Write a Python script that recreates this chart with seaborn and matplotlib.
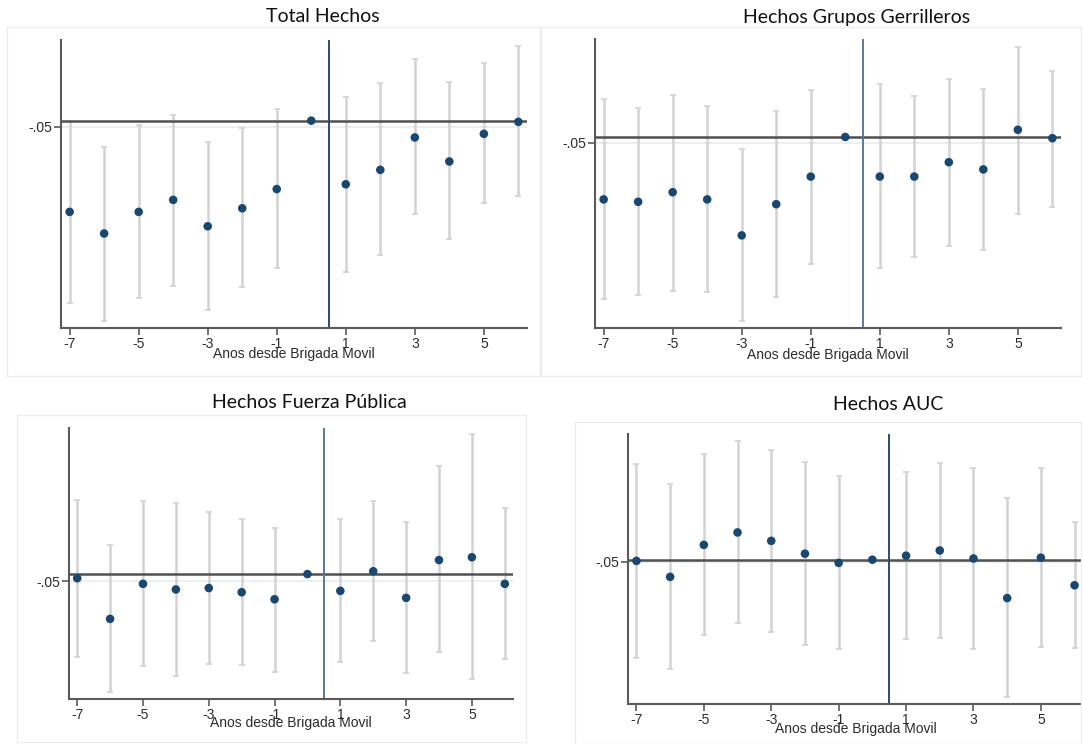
import numpy as np
import pandas as pd
import seaborn as sns
import matplotlib.pyplot as plt
from matplotlib.patches import Rectangle

years = [-7, -6, -5, -4, -3, -2, -1, 0, 1, 2, 3, 4, 5, 6]
xticks = [-7, -5, -3, -1, 1, 3, 5]
nan = np.nan

titles = ['Total Hechos', 'Hechos Grupos Gerrilleros',
          'Hechos Fuerza Pública', 'Hechos AUC']
xlabel = 'Anos desde Brigada Movil'

# coeficientes e intervalos (año 0 = referencia)
total_coef = [-0.76, -0.94, -0.76, -0.66, -0.88, -0.73, -0.57, 0.0, -0.53, -0.41, -0.14, -0.34, -0.11, -0.01]
total_lo = [-1.52, -1.67, -1.48, -1.38, -1.58, -1.39, -1.23, nan, -1.26, -1.12, -0.78, -0.99, -0.69, -0.63]
total_hi = [0.0, -0.22, -0.04, 0.05, -0.18, -0.06, 0.10, nan, 0.20, 0.31, 0.51, 0.32, 0.48, 0.62]

guer_coef = [-0.52, -0.54, -0.46, -0.52, -0.82, -0.56, -0.33, 0.0, -0.33, -0.33, -0.21, -0.27, 0.06, -0.01]
guer_lo = [-1.35, -1.32, -1.28, -1.29, -1.53, -1.33, -1.06, nan, -1.09, -1.00, -0.91, -0.94, -0.64, -0.58]
guer_hi = [0.32, 0.24, 0.35, 0.26, -0.10, 0.22, 0.39, nan, 0.44, 0.34, 0.48, 0.40, 0.75, 0.55]

fp_coef = [-0.03, -0.32, -0.07, -0.11, -0.10, -0.13, -0.18, 0.0, -0.12, 0.02, -0.17, 0.10, 0.12, -0.07]
fp_lo = [-0.59, -0.84, -0.66, -0.73, -0.64, -0.65, -0.70, nan, -0.63, -0.48, -0.71, -0.56, -0.75, -0.61]
fp_hi = [0.53, 0.21, 0.52, 0.51, 0.44, 0.39, 0.33, nan, 0.39, 0.52, 0.37, 0.77, 1.00, 0.47]

auc_coef = [-0.03, -0.43, 0.37, 0.68, 0.47, 0.15, -0.08, 0.0, 0.10, 0.23, 0.03, -0.96, 0.05, -0.64]
auc_lo = [-2.45, -2.73, -1.88, -1.59, -1.81, -2.13, -2.23, nan, -1.99, -1.95, -2.23, -3.43, -2.19, -2.21]
auc_hi = [2.39, 1.89, 2.63, 2.97, 2.75, 2.44, 2.08, nan, 2.20, 2.41, 2.28, 1.53, 2.28, 0.93]

series = [(total_coef, total_lo, total_hi),
          (guer_coef, guer_lo, guer_hi),
          (fp_coef, fp_lo, fp_hi),
          (auc_coef, auc_lo, auc_hi)]
ylims = [(-1.725, 0.672), (-1.594, 0.814), (-0.890, 1.043), (-3.608, 3.142)]

sns.set_theme(style='white')
plt.rcParams['font.family'] = ['Liberation Sans', 'DejaVu Sans']

W, H = 1082, 744
fig = plt.figure(figsize=(W / 100, H / 100), dpi=100)

# marcos de cada captura (px: izq, arriba, der, abajo)
frames = [(7, 27, 540, 376), (541, 27, 1081, 376), (17, 415, 526, 742), (575, 422, 1081, 744)]
for l, t, r, b in frames:
    fig.patches.append(Rectangle((l / W, 1 - b / H), (r - l) / W, (b - t) / H,
                                 transform=fig.transFigure, fill=False,
                                 edgecolor='#ededed', lw=1))

boxes = [(61, 40, 527, 327.7), (595, 39.3, 1061, 328.3), (69, 428, 513, 698.7), (628, 434, 1083, 704)]
title_pos = [(323, 17), (857, 17), (309, 402), (888, 405)]
vline_col = ['#2e4c6d', '#5a7896', '#5a7896', '#2e4c6d']

for i in range(4):
    l, t, r, b = boxes[i]
    ax = fig.add_axes([l / W, 1 - b / H, (r - l) / W, (b - t) / H])
    coef, lo, hi = series[i]
    df = pd.DataFrame({'anio': years, 'coef': coef, 'lo': lo, 'hi': hi})
    ci = df.dropna()

    ax.axhline(-0.05, color='#e6eeee', lw=1.2, zorder=0)
    ax.errorbar(ci['anio'], ci['coef'],
                yerr=[ci['coef'] - ci['lo'], ci['hi'] - ci['coef']],
                fmt='none', ecolor='#d2d2d2', elinewidth=1.8, capsize=2.5,
                capthick=1.2, zorder=1)
    ax.axhline(0, color='#505050', lw=1.8, zorder=2)
    ax.axvline(0.5, color=vline_col[i], lw=1.4, zorder=2)
    sns.scatterplot(data=df, x='anio', y='coef', ax=ax, color='#1a476f',
                    s=38, edgecolor='none', zorder=3)

    ax.set_xlim(-7.25, 6.25)
    ax.set_ylim(*ylims[i])
    ax.set_xticks(xticks)
    ax.set_xticklabels([str(v) for v in xticks])
    ax.set_yticks([-0.05])
    ax.set_yticklabels(['-.05'])
    ax.tick_params(bottom=True, left=True, direction='out', length=5, width=1.2,
                   color='#5a5a5a', labelcolor='#2b2b2b', labelsize=10, pad=1.5)
    ax.set_ylabel('')
    ax.set_xlabel(xlabel, fontsize=10, color='#2b2b2b', va='center')
    ax.xaxis.set_label_coords(0.5, -0.091)
    for side in ['top', 'right']:
        ax.spines[side].set_visible(False)
    for side in ['left', 'bottom']:
        ax.spines[side].set_color('#5a5a5a')
        ax.spines[side].set_linewidth(1.5)
    ax.set_facecolor('white')

    tx, ty = title_pos[i]
    fig.text(tx / W, 1 - ty / H, titles[i], ha='center', va='center',
             fontsize=14, color='#111111', family=['Lato', 'DejaVu Sans'])

fig.savefig('out.png', dpi=100)
